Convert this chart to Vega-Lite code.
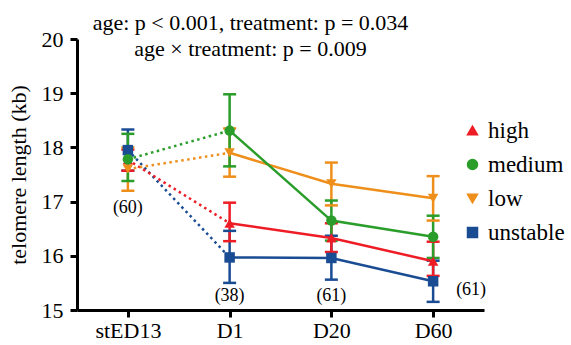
{
  "$schema": "https://vega.github.io/schema/vega-lite/v6.json",
  "width": 407,
  "height": 271,
  "padding": {"left": 7, "top": 12, "right": 5, "bottom": 5},
  "title": {
    "text": ["age: p < 0.001, treatment: p = 0.034", "age × treatment: p = 0.009"],
    "font": "serif",
    "fontSize": 22,
    "fontWeight": "normal",
    "color": "black",
    "lineHeight": 26,
    "anchor": "middle",
    "dx": -30,
    "offset": -33
  },
  "datasets": {
    "pts": [
      {"group": "unstable", "time": "stED13", "mean": 17.95, "lo": 17.57, "hi": 18.33},
      {"group": "unstable", "time": "D1", "mean": 15.97, "lo": 15.5, "hi": 16.46},
      {"group": "unstable", "time": "D20", "mean": 15.96, "lo": 15.56, "hi": 16.37},
      {"group": "unstable", "time": "D60", "mean": 15.53, "lo": 15.15, "hi": 15.91},
      {"group": "high", "time": "stED13", "mean": 17.77, "lo": 17.57, "hi": 17.96},
      {"group": "high", "time": "D1", "mean": 16.6, "lo": 16.27, "hi": 16.98},
      {"group": "high", "time": "D20", "mean": 16.33, "lo": 16.07, "hi": 16.6},
      {"group": "high", "time": "D60", "mean": 15.9, "lo": 15.63, "hi": 16.26},
      {"group": "low", "time": "stED13", "mean": 17.6, "lo": 17.2, "hi": 18.0},
      {"group": "low", "time": "D1", "mean": 17.9, "lo": 17.46, "hi": 18.35},
      {"group": "low", "time": "D20", "mean": 17.33, "lo": 16.93, "hi": 17.72},
      {"group": "low", "time": "D60", "mean": 17.06, "lo": 16.65, "hi": 17.47},
      {"group": "medium", "time": "stED13", "mean": 17.78, "lo": 17.38, "hi": 18.25},
      {"group": "medium", "time": "D1", "mean": 18.31, "lo": 17.65, "hi": 18.98},
      {"group": "medium", "time": "D20", "mean": 16.65, "lo": 16.28, "hi": 17.02},
      {"group": "medium", "time": "D60", "mean": 16.35, "lo": 15.96, "hi": 16.74}
    ],
    "notes": [
      {"time": "stED13", "y": 16.88, "label": "(60)", "side": "c"},
      {"time": "D1", "y": 15.25, "label": "(38)", "side": "c"},
      {"time": "D20", "y": 15.25, "label": "(61)", "side": "c"},
      {"time": "D60", "y": 15.36, "label": "(61)", "side": "r"}
    ]
  },
  "data": {"name": "pts"},
  "encoding": {
    "x": {
      "field": "time",
      "type": "ordinal",
      "sort": ["stED13", "D1", "D20", "D60"],
      "scale": {"type": "point", "padding": 0.5},
      "axis": {"title": null, "labelAngle": 0, "tickSize": 7, "labelPadding": 3}
    },
    "color": {
      "field": "group",
      "type": "nominal",
      "scale": {"domain": ["high", "medium", "low", "unstable"], "range": ["#ee1c25", "#2a9d2a", "#ef8f1b", "#1a4c94"]}
    }
  },
  "layer": [
    {
      "mark": {"type": "rule", "strokeWidth": 2.5},
      "encoding": {
        "y": {"field": "lo", "type": "quantitative"},
        "y2": {"field": "hi"}
      }
    },
    {
      "mark": {"type": "tick", "thickness": 2.5, "size": 13, "opacity": 1},
      "encoding": {
        "y": {"field": "lo", "type": "quantitative"}
      }
    },
    {
      "mark": {"type": "tick", "thickness": 2.5, "size": 13, "opacity": 1},
      "encoding": {
        "y": {"field": "hi", "type": "quantitative"}
      }
    },
    {
      "transform": [{"filter": {"field": "time", "oneOf": ["stED13", "D1"]}}],
      "mark": {"type": "line", "strokeWidth": 2.5, "strokeDash": [2.5, 3.5]},
      "encoding": {
        "y": {"field": "mean", "type": "quantitative"},
        "detail": {"field": "group"}
      }
    },
    {
      "transform": [{"filter": {"field": "time", "oneOf": ["D1", "D20", "D60"]}}],
      "mark": {"type": "line", "strokeWidth": 2.5},
      "encoding": {
        "y": {"field": "mean", "type": "quantitative"},
        "detail": {"field": "group"}
      }
    },
    {
      "mark": {"type": "point", "filled": true, "opacity": 1, "size": 110},
      "encoding": {
        "y": {
          "field": "mean",
          "type": "quantitative",
          "scale": {"domain": [15, 20], "nice": false, "zero": false},
          "axis": {"title": "telomere length (kb)", "titleFont": "serif", "titleFontSize": 22, "values": [15, 16, 17, 18, 19, 20], "tickSize": 7, "labelPadding": 7, "titlePadding": 11}
        },
        "shape": {
          "field": "group",
          "type": "nominal",
          "scale": {"domain": ["high", "medium", "low", "unstable"], "range": ["triangle-up", "circle", "triangle-down", "square"]}
        }
      }
    },
    {
      "data": {"name": "notes"},
      "transform": [{"filter": {"field": "side", "equal": "c"}}],
      "mark": {"type": "text", "font": "serif", "fontSize": 18, "color": "black"},
      "encoding": {
        "y": {"field": "y", "type": "quantitative"},
        "text": {"field": "label"},
        "color": {"value": "black"}
      }
    },
    {
      "data": {"name": "notes"},
      "transform": [{"filter": {"field": "side", "equal": "r"}}],
      "mark": {"type": "text", "font": "serif", "fontSize": 18, "color": "black", "dx": 38},
      "encoding": {
        "y": {"field": "y", "type": "quantitative"},
        "text": {"field": "label"},
        "color": {"value": "black"}
      }
    }
  ],
  "config": {
    "view": {"stroke": null},
    "font": "serif",
    "legend": {
      "title": null,
      "orient": "none",
      "legendX": 384,
      "legendY": 80,
      "symbolSize": 100,
      "rowPadding": 10,
      "labelFontSize": 23,
      "labelFont": "serif",
      "labelColor": "black",
      "labelOffset": 4
    },
    "axis": {
      "grid": false,
      "domainColor": "black",
      "domainWidth": 3,
      "tickColor": "black",
      "tickWidth": 3,
      "labelColor": "black",
      "labelFont": "serif",
      "labelFontSize": 22,
      "titleFont": "serif",
      "titleFontSize": 22,
      "titleFontWeight": "normal",
      "titleColor": "black"
    }
  }
}
